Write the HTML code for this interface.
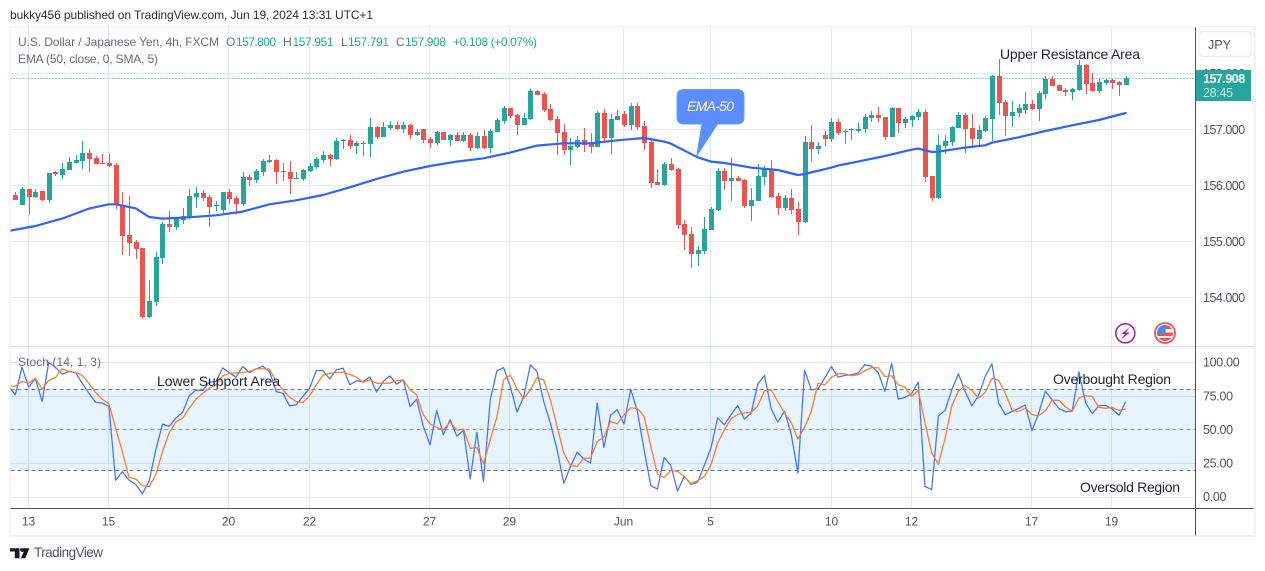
<!DOCTYPE html>
<html lang="en">
<head>
<meta charset="utf-8">
<title>USD/JPY 4h chart</title>
<style>
html,body{margin:0;padding:0;background:#fff;width:1265px;height:571px;overflow:hidden}
svg{position:absolute;left:0;top:0;display:block}
text{font-family:"Liberation Sans",sans-serif}
</style>
</head>
<body>
<svg id="chart" xmlns="http://www.w3.org/2000/svg" width="1265" height="571" viewBox="0 0 1265 571">
  <defs>
    <clipPath id="main-clip"><rect x="10.5" y="27.5" width="1185" height="319"/></clipPath>
    <clipPath id="stoch-clip"><rect x="10.5" y="347" width="1185" height="161"/></clipPath>
    <clipPath id="flag-clip"><circle cx="1165" cy="333" r="8"/></clipPath>
  </defs>
  <text x="10" y="19" font-size="12" fill="#2a2e39" textLength="363" lengthAdjust="spacing">bukky456 published on TradingView.com, Jun 19, 2024 13:31 UTC+1</text>
  <g id="grid"></g>
  <rect x="10.5" y="389.4" width="1185" height="80.8" fill="#2196f3" fill-opacity="0.11"/>
  <g id="stoch-guides"></g>
  <g id="candles" clip-path="url(#main-clip)"></g>
  <path id="ema-line" fill="none" stroke="#2f62ff" stroke-width="2.2" stroke-linejoin="round" stroke-linecap="round" clip-path="url(#main-clip)"/>
  <line id="last-line" x1="10.5" x2="1195" stroke="#26a69a" stroke-width="1" stroke-dasharray="1 2"/>
  <path id="stoch-k" fill="none" stroke="#3f74ff" stroke-width="1.25" stroke-linejoin="round" clip-path="url(#stoch-clip)"/>
  <path id="stoch-d" fill="none" stroke="#ff7a1f" stroke-width="1.25" stroke-linejoin="round" clip-path="url(#stoch-clip)"/>

  <rect x="9" y="26" width="1.5" height="511" fill="#f0f3fa"/>
  <rect x="9" y="26" width="1247" height="1.5" fill="#f0f3fa"/>
  <rect x="9" y="535" width="1247" height="2" fill="#f0f3fa"/>
  <rect x="1253.5" y="26" width="2.5" height="511" fill="#f0f3fa"/>
  <rect x="10.5" y="346" width="1243" height="1.2" fill="#e0e3eb"/>
  <rect x="10.5" y="508" width="1243" height="1" fill="#50535e"/>
  <rect x="1195" y="27.5" width="1" height="508" fill="#50535e"/>

  <g id="axis-labels"></g>

  <rect id="last-label" x="1196" y="70" width="55" height="31" fill="#26a69a"/>
  <text id="last-text" x="1203" y="83" font-size="12.5" font-weight="bold" fill="#fff" letter-spacing="-0.5"></text>
  <text x="1203" y="97" font-size="12.5" fill="#c8ebe7" letter-spacing="-0.3">28:45</text>

  <rect x="1199" y="31.5" width="52" height="25" rx="4" fill="#fff" stroke="#e9ecf2" stroke-width="1.2"/>
  <text x="1208" y="49" font-size="12.5" fill="#50535e">JPY</text>

  <g font-size="12">
    <text x="18" y="46" fill="#6a6d78" textLength="201" lengthAdjust="spacing">U.S. Dollar / Japanese Yen, 4h, FXCM</text>
    <text x="226" y="46" fill="#6a6d78">O</text>
    <text x="236" y="46" fill="#26a69a" textLength="40">157.800</text>
    <text x="283" y="46" fill="#6a6d78">H</text>
    <text x="292.500" y="46" fill="#26a69a" textLength="41">157.951</text>
    <text x="341" y="46" fill="#6a6d78">L</text>
    <text x="348" y="46" fill="#26a69a" textLength="41">157.791</text>
    <text x="396" y="46" fill="#6a6d78">C</text>
    <text x="405" y="46" fill="#26a69a" textLength="41">157.908</text>
    <text x="453" y="46" fill="#26a69a" textLength="84">+0.108 (+0.07%)</text>
    <text x="18" y="63" fill="#6a6d78" textLength="140" lengthAdjust="spacing">EMA (50, close, 0, SMA, 5)</text>
    <text x="18" y="366" fill="#6a6d78" textLength="83" lengthAdjust="spacing">Stoch (14, 1, 3)</text>
  </g>

  <g font-size="14" fill="#1f2330">
    <text x="1000" y="59" textLength="140" lengthAdjust="spacing">Upper Resistance Area</text>
    <text x="157" y="386" textLength="123" lengthAdjust="spacing">Lower Support Area</text>
    <text x="1053" y="384" textLength="118" lengthAdjust="spacing">Overbought Region</text>
    <text x="1080" y="492" textLength="100" lengthAdjust="spacing">Oversold Region</text>
  </g>

  <g>
    <path d="M684 89.500H737Q744 89.500 744 96.500V117Q744 124 737 124H717.500L696.700 156L702 124H684Q677 124 677 117V96.500Q677 89.500 684 89.500Z" fill="#5c8cff" stroke="#54a8dc" stroke-width="1"/>
    <text x="710.500" y="111" font-size="14" font-style="italic" fill="#fff" text-anchor="middle" textLength="47" lengthAdjust="spacing">EMA-50</text>
  </g>

  <g>
    <circle cx="1125.300" cy="333.300" r="9.500" fill="#fff" stroke="#9c27b0" stroke-width="1.600"/>
    <path d="M1129.500 327.500L1121 334H1125L1121 339.500L1130 332.500H1126Z" fill="#9c27b0"/>
  </g>
  <g>
    <circle cx="1165" cy="333" r="10" fill="#fff" stroke="#f0555a" stroke-width="1.800"/>
    <g clip-path="url(#flag-clip)">
      <rect x="1157" y="325" width="16" height="4" fill="#ef5350"/>
      <rect x="1157" y="329" width="16" height="3.500" fill="#f7f7f7"/>
      <rect x="1157" y="332.500" width="16" height="3.500" fill="#ef5350"/>
      <rect x="1157" y="336" width="16" height="2" fill="#f7f7f7"/>
      <rect x="1157" y="338" width="16" height="3" fill="#ef5350"/>
      <rect x="1156.500" y="325" width="9" height="9" fill="#3d8fe8"/>
    </g>
  </g>

  <g>
    <path fill="#131722" d="M10 548.300H19.500V558.300H14.800V551.500H10ZM20.700 548.300H29.300L25.300 558.300H20.800L24 551.200A2 2 0 0 1 20.700 548.300Z"/>
    <text x="34" y="557" font-size="13.500" fill="#50535e" textLength="69" lengthAdjust="spacing">TradingView</text>
  </g>
</svg>

<script>
/* Candle series, prices in JPY */
const opens = [
155.83,155.65,155.94,155.79,155.89,155.74,156.23,156.19,156.27,156.40,
156.44,156.58,156.49,156.39,156.40,156.36,155.65,155.11,154.99,154.88,
153.65,153.92,154.70,155.31,155.26,155.38,155.42,155.79,155.86,155.80,
155.63,155.56,155.88,155.77,155.67,156.15,156.10,156.24,156.42,156.45,
156.25,156.24,156.11,156.11,156.26,156.33,156.45,156.54,156.47,156.80,
156.81,156.70,156.76,156.74,157.04,156.86,157.02,157.08,157.01,157.08,
156.90,
157.01,156.83,156.76,156.95,156.81,156.90,156.79,156.90,156.67,156.88,
156.67,156.95,157.15,157.38,157.26,157.08,157.18,157.68,157.63,157.36,
157.18,156.95,156.63,156.68,156.81,156.74,156.69,157.29,156.85,157.17,
157.27,157.08,157.42,157.06,156.77,156.06,156.01,156.38,156.29,155.31,
155.13,154.77,154.83,155.20,155.56,156.26,156.08,156.13,156.10,155.63,
155.72,156.15,156.29,155.81,155.60,155.77,155.58,155.35,156.77,156.65,
156.90,156.83,157.13,156.95,156.99,156.97,157.01,157.20,157.26,157.22,
156.86,157.38,157.11,157.17,157.22,157.31,156.17,155.77,156.70,156.77,
157.02,157.26,157.02,156.83,156.97,157.18,157.95,157.49,157.24,157.29,
157.35,157.45,157.36,157.63,157.90,157.79,157.70,157.67,157.70,158.15,
157.83,157.68,157.83,157.88,157.85,157.800];
const highs = [
155.88,155.97,155.94,155.93,155.90,156.22,156.26,156.40,156.51,156.55,
156.79,156.65,156.52,156.56,156.56,156.39,155.88,155.81,155.02,154.88,
154.31,154.81,155.35,155.54,155.44,155.60,155.93,155.97,155.92,155.83,
155.72,155.88,155.93,155.81,156.24,156.20,156.30,156.47,156.54,156.47,
156.40,156.44,156.24,156.29,156.40,156.51,156.61,156.56,156.85,156.83,
156.90,156.80,156.79,157.20,157.06,157.13,157.15,157.13,157.13,157.10,
157.01,
157.01,156.87,156.97,156.95,156.92,156.95,156.95,156.93,156.95,156.99,
157.01,157.20,157.42,157.38,157.27,157.29,157.72,157.70,157.67,157.45,
157.24,157.10,156.85,156.88,157.02,156.93,157.33,157.36,157.27,157.35,
157.33,157.47,157.47,157.15,156.85,156.29,156.42,156.49,156.31,155.38,
155.26,154.92,155.44,155.61,156.31,156.31,156.49,156.17,156.11,155.95,
156.38,156.35,156.45,155.86,155.83,155.93,155.70,156.88,157.08,156.77,
156.97,157.20,157.18,157.00,157.02,157.11,157.27,157.33,157.40,157.22,
157.40,157.38,157.22,157.26,157.36,157.36,156.17,156.90,156.90,157.06,
157.31,157.29,157.27,157.08,157.24,157.97,158.26,157.52,157.51,157.45,
157.67,157.52,157.68,157.95,157.95,157.79,157.74,157.74,158.24,158.17,
158.01,157.90,157.90,157.90,157.86,157.951];
const lows = [
155.74,155.65,155.49,155.77,155.72,155.69,156.17,156.11,156.27,156.40,
156.29,156.24,156.38,156.38,156.33,155.58,154.76,154.74,154.68,153.61,
153.63,153.85,154.60,155.17,155.20,155.31,155.40,155.60,155.72,155.26,
155.54,155.51,155.67,155.49,155.63,155.99,156.05,156.17,156.40,156.02,
156.08,155.85,156.11,156.08,156.24,156.29,156.40,156.35,156.45,156.65,
156.65,156.56,156.52,156.51,156.83,156.86,156.99,156.99,156.93,156.83,
156.88,
156.76,156.67,156.72,156.81,156.70,156.79,156.77,156.61,156.65,156.65,
156.58,156.95,157.10,157.20,156.90,157.08,157.17,157.61,157.31,157.15,
156.54,156.54,156.36,156.67,156.60,156.58,156.69,156.76,156.56,157.17,
157.04,156.99,157.01,156.63,155.95,156.01,155.99,156.26,155.22,154.85,
154.52,154.56,154.77,155.20,155.54,155.92,155.72,156.08,155.60,155.36,
155.72,156.01,155.77,155.47,155.54,155.49,155.11,155.33,156.42,156.56,
156.70,156.77,156.90,156.74,156.81,156.93,156.93,157.13,157.13,156.81,
156.86,156.93,157.02,157.04,157.17,156.06,155.72,155.76,156.56,156.70,
157.02,156.58,156.69,156.72,156.95,156.79,157.26,156.88,157.04,157.22,
157.27,157.35,157.15,157.54,157.77,157.68,157.60,157.52,157.68,157.63,
157.67,157.65,157.79,157.72,157.60,157.791];
const closes = [
155.74,155.93,155.79,155.88,155.73,156.22,156.21,156.29,156.42,156.45,
156.58,156.47,156.38,156.38,156.35,155.64,155.10,154.97,154.86,153.65,
153.94,154.72,155.31,155.26,155.42,155.45,155.81,155.86,155.77,155.61,
155.64,155.88,155.76,155.67,156.15,156.10,156.26,156.44,156.45,156.24,
156.23,156.11,156.13,156.27,156.35,156.47,156.54,156.47,156.79,156.81,
156.70,156.76,156.75,157.04,156.86,157.04,157.08,157.01,157.08,156.90,
156.95,
156.81,156.76,156.95,156.81,156.90,156.79,156.90,156.67,156.88,156.67,
156.97,157.17,157.38,157.24,157.08,157.20,157.68,157.61,157.35,157.17,
156.93,156.63,156.70,156.81,156.72,156.69,157.29,156.85,157.18,157.24,
157.08,157.42,157.04,156.76,156.04,156.01,156.38,156.27,155.29,155.11,
154.77,154.85,155.22,155.58,156.26,156.08,156.13,156.08,155.63,155.74,
156.17,156.31,155.79,155.60,155.77,155.56,155.35,156.77,156.65,156.70,
156.83,157.13,156.93,156.97,157.00,157.00,157.22,157.26,157.20,156.86,
157.38,157.11,157.18,157.24,157.31,156.15,155.77,156.72,156.79,157.04,
157.26,157.01,156.83,156.99,157.20,157.95,157.47,157.24,157.31,157.38,
157.45,157.36,157.65,157.90,157.77,157.68,157.67,157.72,158.15,157.81,
157.68,157.85,157.88,157.83,157.79,157.908];

/* EMA 50 readings at selected bars */
const emaBars = [-1,3,7,11,14,15,18,20,22,26,30,34,38,42,46,50,54,58,62,66,70,74,78,82,86,90,94,97,98,102,104,106,110,114,117,118,122,123,126,130,134,135,137,138,142,145,146,150,154,158,162,166];
const emaValues = [155.185,155.274,155.405,155.584,155.661,155.661,155.590,155.435,155.405,155.429,155.465,155.530,155.661,155.733,155.827,155.965,156.113,156.244,156.346,156.423,156.483,156.584,156.709,156.750,156.750,156.804,156.846,156.780,156.745,156.500,156.423,156.399,156.316,156.274,156.185,156.203,156.316,156.352,156.423,156.524,156.637,156.655,156.595,156.601,156.673,156.715,156.762,156.857,156.970,157.072,157.167,157.292];

/* Stochastic series; first entry belongs to the bar before the first candle */
const stochK = [82.2,
76.0,96.5,81.7,88.1,71.0,100,96.5,91.3,93.3,92.5,
84.6,77.2,70.5,69.8,67.3,12.4,18.8,12.6,9.4,2.5,
11.6,35.1,54.2,52.5,58.6,62.8,75.2,79.4,79.2,85.4,
85.9,96.0,92.5,89.1,97.0,92.5,95.3,97.2,93.3,78.4,
77.2,67.8,68.5,74.7,80.9,94.0,94.0,87.8,94.5,95.8,
83.4,86.4,85.9,89.3,78.0,85.9,90.1,83.9,87.1,67.3,
72.7,52.5,38.8,64.3,46.3,57.4,45.3,49.5,13.3,48.2,
11.6,72.2,93.8,96.3,82.2,63.1,74.7,98.2,93.3,71.0,
54.9,35.1,10.1,22.7,33.4,28.2,25.2,69.8,36.9,60.9,
64.8,54.2,80.2,63.6,35.1,8.4,5.9,29.2,23.5,4.4,
15.3,9.4,11.1,23.5,36.4,58.9,53.7,61.1,68.0,57.9,
62.3,83.9,90.3,65.6,55.7,63.8,46.8,17.8,94.3,79.7,
80.4,88.3,97.0,89.1,90.4,90.9,92.1,98.3,97.3,92.6,
78.5,99.5,72.8,74.0,76.8,85.4,7.9,5.5,60.4,64.4,
79.7,91.6,78.5,67.8,75.3,89.6,99.0,69.8,61.2,63.6,
65.9,68.3,49.3,62.4,78.7,72.3,65.9,63.4,63.9,93.1,
70.3,61.9,67.8,68.1,65.4,60.7,70.8];
const stochD = [82.6,
82.4,85.9,84.6,88.3,80.2,86.6,88.8,95.3,93.3,92.8,
90.3,84.6,77.7,72.7,69.3,51.2,33.9,14.6,13.3,8.4,
7.7,16.6,33.9,47.5,55.7,58.6,66.1,72.7,77.2,80.9,
83.4,90.1,92.0,92.3,92.5,93.3,95.3,95.3,95.0,85.9,
79.7,74.2,71.0,70.3,75.2,83.4,90.6,92.0,92.5,92.8,
91.1,89.1,85.4,87.1,84.6,84.6,84.6,86.4,87.1,79.7,
76.0,61.1,54.4,51.7,50.0,55.7,49.7,50.5,36.1,36.9,
24.5,42.6,59.4,87.1,90.6,80.4,73.2,79.7,88.8,87.1,
72.2,52.5,32.6,23.5,22.7,28.9,28.9,41.3,44.5,56.2,
54.4,61.1,66.3,65.8,59.9,37.6,17.1,14.6,19.8,19.0,
15.3,9.9,12.1,15.3,24.0,40.1,50.0,58.1,61.4,62.6,
62.8,67.8,78.9,79.7,71.0,62.3,55.4,43.0,52.0,63.6,
84.6,83.1,89.1,91.6,91.6,90.1,90.9,93.8,96.1,96.1,
89.6,90.1,83.4,81.7,74.8,79.2,55.0,32.7,24.3,43.8,
67.8,78.7,82.9,79.2,73.5,77.7,88.1,86.7,77.2,64.6,
63.6,66.1,61.2,60.4,64.1,72.0,72.0,66.9,63.9,73.5,
75.5,74.8,66.6,65.9,66.6,64.4,65.4];

/* Axis data */
const priceTicks = [158,157,156,155,154];
const stochTicks = [100,75,50,25,0];
const stochGuides = [80,50,20];
const timeBars = [2,14,32,44,62,74,91,104,122,134,152,164];
const timeLabels = ['13','15','20','22','27','29','Jun','5','10','12','17','19'];

const SVGNS = 'http://www.w3.org/2000/svg';
function xBar(i){ return 15.3 + 6.689 * i; }
function yPrice(p){ return 129.33 + (157 - p) * 56; }
function yStoch(v){ return 497 - v * 1.345; }
function make(tag, parent, attrs){
  const el = document.createElementNS(SVGNS, tag);
  for (const k in attrs) el.setAttribute(k, attrs[k]);
  parent.appendChild(el);
  return el;
}

const grid = document.getElementById('grid');
const guides = document.getElementById('stoch-guides');
const labels = document.getElementById('axis-labels');
const candles = document.getElementById('candles');

timeBars.forEach(function(b, n){
  const x = Math.floor(xBar(b) - 0.35) + 0.5;
  const v = make('line', grid, {x1:x, x2:x, y1:27.5, y2:508, stroke:'#dce8f3', 'stroke-width':1});
  
  
  const t = make('text', labels, {x:x, y:525.7, 'font-size':12, fill:'#50535e', 'text-anchor':'middle'});
  t.textContent = timeLabels[n];
  
  
});

priceTicks.forEach(function(p){
  const y = Math.floor(yPrice(p)) + 0.5;
  const h = make('line', grid, {x1:10.5, x2:1195, y1:y, y2:y, stroke:'#e4e9f1', 'stroke-width':1});
  
  
  const t = make('text', labels, {x:1203, y:yPrice(p) + 4.6, 'font-size':12.5, fill:'#50535e', 'letter-spacing':'-0.5'});
  t.textContent = p.toFixed(3);
  
  
});

stochTicks.forEach(function(v){
  const y = Math.floor(yStoch(v)) + 0.5;
  if (v !== 50) {
    const h = make('line', grid, {x1:10.5, x2:1195, y1:y, y2:y, stroke:'#e4e9f1', 'stroke-width':1});
    
    
  }
  const t = make('text', labels, {x:1203, y:yStoch(v) + 4.2, 'font-size':12.5, fill:'#50535e', 'letter-spacing':'-0.3'});
  t.textContent = v.toFixed(2);
  
  
});

stochGuides.forEach(function(v){
  const y = Math.floor(yStoch(v)) + 0.5;
  const g = make('line', guides, {x1:10.5, x2:1195, y1:y, y2:y, stroke: v === 50 ? '#9a9da6' : '#787b86', 'stroke-width':1, 'stroke-dasharray':'4 3'});
  
  
});

opens.forEach(function(o, i){
  const c = closes[i];
  const color = c >= o ? '#26a69a' : '#ef5350';
  const x = Math.round(xBar(i));
  const top = Math.round(yPrice(Math.max(o, c)));
  const bottom = Math.round(yPrice(Math.min(o, c)));
  const hi = Math.round(yPrice(highs[i]));
  const lo = Math.round(yPrice(lows[i]));
  const wick = make('rect', candles, {x:x, y:hi, width:1, height:Math.max(1, lo - hi), fill:color});
  
  
  const body = make('rect', candles, {x:x - 2, y:top, width:5, height:Math.max(1, bottom - top), fill:color});
  
  
});

document.getElementById('ema-line').setAttribute('d', emaValues.map(function(v, n){
  return (n ? 'L' : 'M') + xBar(emaBars[n]).toFixed(1) + ' ' + yPrice(v).toFixed(1);
}).join(''));

document.getElementById('stoch-k').setAttribute('d', stochK.map(function(v, n){
  return (n ? 'L' : 'M') + xBar(n - 1).toFixed(1) + ' ' + yStoch(v).toFixed(1);
}).join(''));

document.getElementById('stoch-d').setAttribute('d', stochD.map(function(v, n){
  return (n ? 'L' : 'M') + xBar(n - 1).toFixed(1) + ' ' + yStoch(v).toFixed(1);
}).join(''));

const lastClose = closes[closes.length - 1];
const lastY = Math.floor(yPrice(lastClose)) + 0.5;
const lastLine = document.getElementById('last-line');
lastLine.setAttribute('y1', lastY);
lastLine.setAttribute('y2', lastY);
document.getElementById('last-text').textContent = lastClose.toFixed(3);
</script>
</body>
</html>
